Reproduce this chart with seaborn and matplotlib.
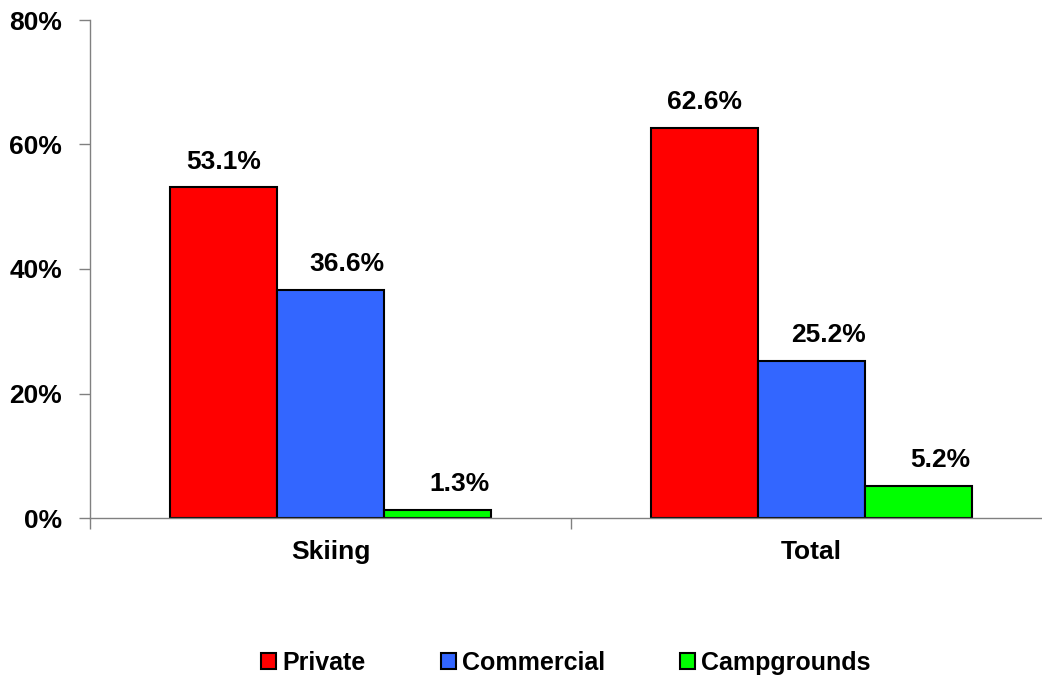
import matplotlib
matplotlib.use("Agg")
import matplotlib.pyplot as plt
import seaborn as sns
import pandas as pd
from matplotlib.ticker import FixedLocator, PercentFormatter

# Share of activity by lodging type
categories = ["Skiing", "Total"]
series = ["Private", "Commercial", "Campgrounds"]
private = [53.1, 62.6]
commercial = [36.6, 25.2]
campgrounds = [1.3, 5.2]
colors = ["#FF0000", "#3366FF", "#00FF00"]
y_ticks = [0, 20, 40, 60, 80]
# horizontal nudge (points) of the value labels for each series
label_shift = [0, 12, 16]

rows = []
for name, vals in zip(series, [private, commercial, campgrounds]):
    for cat, v in zip(categories, vals):
        rows.append({"category": cat, "series": name, "value": v})
df = pd.DataFrame(rows)

sns.set_style("white")
plt.rcParams["font.family"] = ["Liberation Sans", "DejaVu Sans"]
plt.rcParams["font.weight"] = "bold"
plt.rcParams["text.color"] = "black"
plt.rcParams["xtick.color"] = "black"
plt.rcParams["ytick.color"] = "black"
plt.rcParams["xtick.labelcolor"] = "black"
plt.rcParams["ytick.labelcolor"] = "black"

FS = 19

fig = plt.figure(figsize=(10.42, 6.78), dpi=100)
ax = fig.add_axes([90 / 1042, 1 - 518 / 678, (1052 - 90) / 1042, 498 / 678])

sns.barplot(data=df, x="category", y="value", hue="series", order=categories,
            hue_order=series, palette=colors, saturation=1, width=0.667,
            edgecolor="black", linewidth=1.5, ax=ax, legend=True)

for cont, dx in zip(ax.containers, label_shift):
    for bar in cont:
        h = bar.get_height()
        ax.annotate(f"{h:.1f}%", (bar.get_x() + bar.get_width() / 2, h),
                    xytext=(dx, 10), textcoords="offset points",
                    ha="center", va="bottom", fontsize=FS, fontweight="bold",
                    color="black")

ax.set_xlim(-0.5, 1.5)
ax.set_ylim(0, 80)
ax.set_yticks(y_ticks)
ax.yaxis.set_major_formatter(PercentFormatter(decimals=0))
ax.set_xlabel("")
ax.set_ylabel("")

# Ticks between categories on the x axis, labels at the category centres
ax.xaxis.set_minor_locator(FixedLocator([-0.5, 0.5, 1.5]))
ax.tick_params(axis="x", which="major", length=0, pad=16, labelsize=FS,
               labelcolor="black")
ax.tick_params(axis="x", which="minor", length=8, width=1, color="#808080",
               direction="out", bottom=True)
ax.tick_params(axis="y", which="major", length=8, width=1, color="#808080",
               direction="out", left=True, pad=12, labelsize=FS,
               labelcolor="black")
for lab in ax.get_xticklabels() + ax.get_yticklabels():
    lab.set_fontweight("bold")

for side in ["top", "right"]:
    ax.spines[side].set_visible(False)
for side in ["left", "bottom"]:
    ax.spines[side].set_color("#808080")
    ax.spines[side].set_linewidth(1)

handles, labels = ax.get_legend_handles_labels()
ax.get_legend().remove()
fig.legend(handles, labels, loc="center", bbox_to_anchor=(566 / 1042, 1 - 663 / 678),
           ncol=3, frameon=False, handlelength=0.6, handleheight=0.6,
           handletextpad=0.25, columnspacing=3.0,
           prop={"size": 18, "weight": "bold"}, labelcolor="black")

fig.savefig("out.png", dpi=100)
